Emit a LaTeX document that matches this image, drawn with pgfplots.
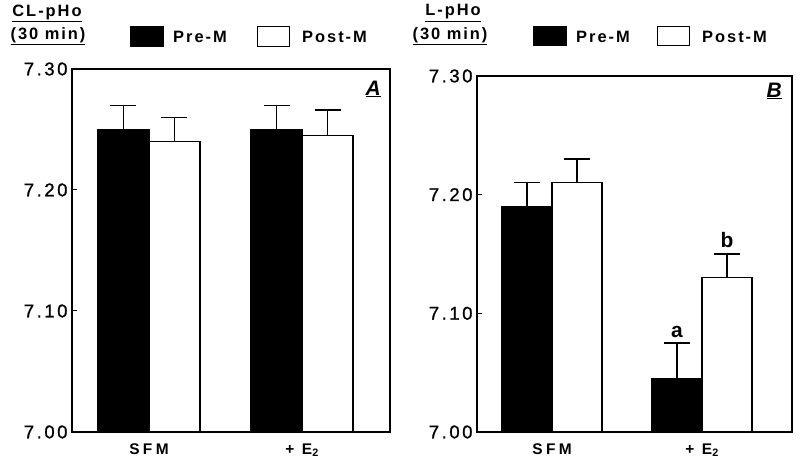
\documentclass[border=0pt]{standalone}
\usepackage{pgfplots}
\pgfplotsset{compat=1.18}
\usepackage{fontspec}
\setmainfont{Liberation Sans}
\newfontfamily\hdr[LetterSpace=12]{Liberation Sans Bold}
\newfontfamily\tck[LetterSpace=14,FakeBold=1]{Liberation Sans}
\newfontfamily\xlab[LetterSpace=22]{Liberation Sans Bold}

\pgfplotsset{
  panel/.style={
    scale only axis, ybar,
    ymin=7.0, ymax=7.3,
    ytick={7.0,7.1,7.2,7.3},
    yticklabels={7.00,7.10,7.20,7.30},
    xtick={0,1},
    xticklabels={SFM,{+ E\textsubscript{2}}},
    ytick pos=left, xtick pos=bottom,
    tick align=inside, major tick length=5bp,
    ytick style={line width=1bp, black},
    xtick style={draw=none},
    axis line style={line width=1.8bp},
    yticklabel style={font=\tck\fontsize{18.5}{18.5}\selectfont, xshift=-1bp},
    xticklabel style={font=\xlab\fontsize{15.5}{15.5}\selectfont, anchor=north, yshift=-8bp},
    clip=true,
  },
  prebar/.style={fill=black, draw=black, line width=1.2bp,
    error bars/y dir=plus, error bars/y explicit,
    error bars/error bar style={line width=1.3bp, black},
    error bars/error mark options={rotate=90, mark size=13bp, line width=1.3bp, black}},
  postbar/.style={fill=white, draw=black, line width=1.2bp,
    error bars/y dir=plus, error bars/y explicit,
    error bars/error bar style={line width=1.3bp, black},
    error bars/error mark options={rotate=90, mark size=13bp, line width=1.3bp, black}},
}

\begin{document}
\begin{tikzpicture}[x=1bp,y=1bp]
\path[use as bounding box] (0,0) rectangle (800,462);

% ---------------- Panel A ----------------
\begin{axis}[panel, at={(72bp,30bp)}, anchor=south west,
  width=318bp, height=363bp,
  xmin=-0.503, xmax=1.575,
  bar width=51bp]
\addplot[bar shift=-25.5bp, prebar] coordinates {
  (0,7.25) +- (0,0.020)
  (1,7.25) +- (0,0.020)
};
\addplot[bar shift=25.5bp, postbar] coordinates {
  (0,7.24) +- (0,0.020)
  (1,7.245) +- (0,0.021)
};
\node[font=\bfseries\itshape\fontsize{21}{21}\selectfont] at (axis description cs:0.947,0.945) {\underline{A}};
\end{axis}

% ---------------- Panel B ----------------
\begin{axis}[panel, at={(477bp,30bp)}, anchor=south west,
  width=315bp, height=356bp,
  xmin=-0.5, xmax=1.6,
  bar width=50bp]
\addplot[bar shift=-25bp, prebar] coordinates {
  (0,7.19) +- (0,0.020)
  (1,7.045) +- (0,0.030)
};
\addplot[bar shift=25bp, postbar] coordinates {
  (0,7.21) +- (0,0.020)
  (1,7.13) +- (0,0.020)
};
\node[font=\bfseries\fontsize{21}{21}\selectfont, anchor=base, xshift=-25bp, yshift=5bp] at (axis cs:1,7.075) {a};
\node[font=\bfseries\fontsize{21}{21}\selectfont, anchor=base, xshift=25bp, yshift=6bp] at (axis cs:1,7.15) {b};
\node[font=\bfseries\itshape\fontsize{21}{21}\selectfont] at (axis description cs:0.943,0.958) {\underline{B}};
\end{axis}

% ---------------- Headers and legends ----------------
\begin{scope}[every node/.style={inner sep=0pt, font=\hdr\fontsize{16.5}{16.5}\selectfont}]
  \node at (47,449) {\underline{CL-pHo}};
  \node at (48,426) {\underline{(30 min)}};
  \node at (453,449) {\underline{L-pHo}};
  \node at (450,426) {\underline{(30 min)}};

  \draw[fill=black, line width=1bp] (130,415) rectangle (163,435);
  \node[anchor=west] at (173,425) {Pre-M};
  \draw[fill=white, line width=1bp] (257,415) rectangle (289,435);
  \node[anchor=west] at (302,425) {Post-M};

  \draw[fill=black, line width=1bp] (533,416) rectangle (566,435);
  \node[anchor=west] at (576,425) {Pre-M};
  \draw[fill=white, line width=1bp] (657,416) rectangle (689,435);
  \node[anchor=west] at (702,425) {Post-M};
\end{scope}
\end{tikzpicture}
\end{document}
